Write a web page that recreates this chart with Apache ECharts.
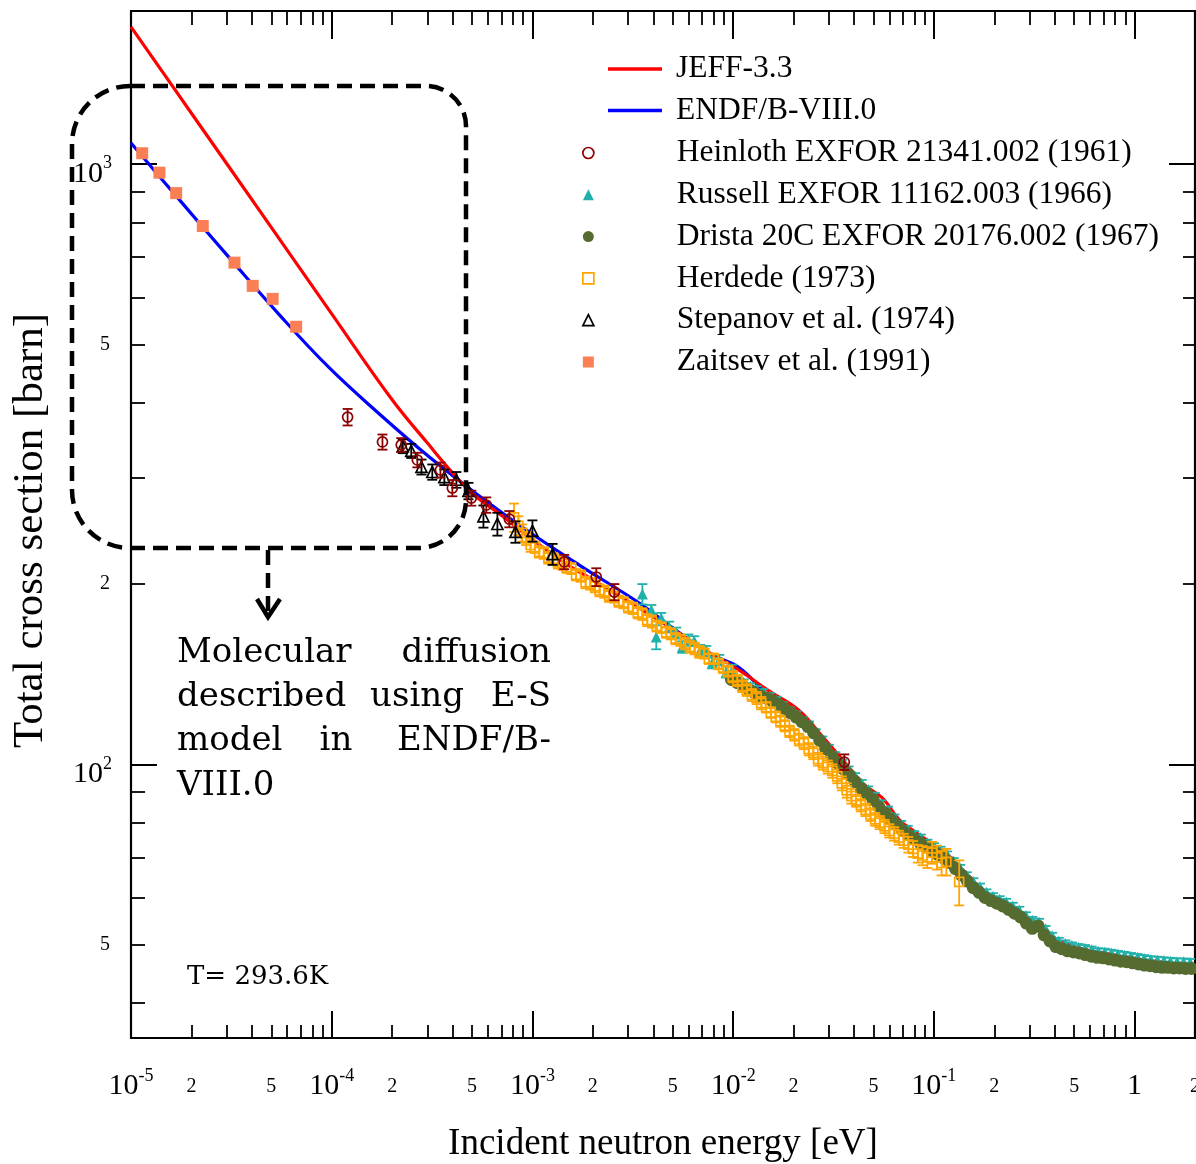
<!DOCTYPE html>
<html>
<head>
<meta charset="utf-8">
<title>Total cross section of H2O</title>
<script src="https://cdn.jsdelivr.net/npm/echarts@6/dist/echarts.min.js"></script>
<style>
  html, body { margin: 0; padding: 0; background: #fff; }
  #chart { width: 1196px; height: 1164px; }
</style>
</head>
<body>
<div id="chart"></div>
<script>
// ---------------- axis ranges and tick values ----------------
const X_MIN = 1e-5, X_MAX = 2;
const Y_MIN = 35, Y_MAX = 1800;
const xDecades = [1e-5, 1e-4, 1e-3, 1e-2, 1e-1, 1];
const minorMultipliers = [2, 3, 4, 5, 6, 7, 8, 9];
const xMinorLabelValues = [2e-5, 5e-5, 2e-4, 5e-4, 2e-3, 5e-3, 2e-2, 5e-2, 2e-1, 5e-1, 2];
const yDecades = [100, 1000];
const yMinorTickValues = [40, 50, 60, 70, 80, 90, 200, 300, 400, 500, 600, 700, 800, 900];
const yMinorLabelValues = [50, 200, 500];

// ---------------- evaluated data (energy in eV, cross section in barn) ----------------
const jeffE = [1e-5, 2e-5, 5e-5, 1e-4, 2e-4, 3e-4, 4e-4, 5e-4, 7e-4, 1e-3, 1.5e-3, 2e-3, 3e-3, 5e-3, 7e-3,
  0.0107, 0.015, 0.0213, 0.028, 0.0349, 0.045, 0.0552, 0.068, 0.0815, 0.1, 0.1192, 0.145, 0.18, 0.229,
  0.27, 0.308, 0.36, 0.42, 0.529, 0.7, 0.971, 1.4, 2.0];
const jeffS = [1694, 1216, 785, 563, 405, 343, 306, 283, 260, 237, 215, 203, 187, 168, 156,
  143.6, 132.7, 123, 111, 102, 92.5, 88, 80.5, 77, 73.4, 70.4, 65.8, 61.3, 59,
  56.8, 54.6, 52.7, 50.9, 49.4, 48.5, 47.5, 46.8, 46.1];

const endfE = [1e-5, 1.744e-5, 3.094e-5, 5.488e-5, 9.74e-5, 1.728e-4, 3.065e-4, 5.437e-4, 9.65e-4, 1.712e-3,
  3.407e-3, 5e-3, 7.6e-3, 0.0107, 0.015, 0.0213, 0.028, 0.0349, 0.045, 0.0552, 0.068, 0.0815,
  0.1, 0.1192, 0.145, 0.18, 0.229, 0.27, 0.308, 0.36, 0.42, 0.529, 0.7, 0.971, 1.4, 2.0];
const endfS = [1085, 872, 698, 561, 457.6, 383.6, 325.2, 280, 243.9, 214.8,
  185.7, 168.8, 153, 145, 130, 119, 108.5, 100, 91.8, 85.5, 79.8, 75.1,
  71.6, 68.8, 64, 60.8, 57.8, 55.8, 54.2, 52.3, 50.5, 49.0, 48.1, 47.1, 46.4, 45.7];

// ---------------- measurements ----------------
// Heinloth EXFOR 21341.002 (1961): energy, sigma, uncertainty
const heinlothE = [1.2e-4, 1.79e-4, 2.22e-4, 2.67e-4, 3.48e-4, 3.99e-4, 4.96e-4, 5.89e-4, 7.67e-4,
  1.44e-3, 2.08e-3, 2.56e-3, 0.0358];
const heinlothS = [379, 344.5, 340.6, 321.5, 309.4, 288.7, 277.8, 270.5, 256.3, 217.4, 205.2, 193.7, 100.9];
const heinlothErr = [12, 10, 9, 9, 9, 9, 8, 8, 8, 6, 7, 6, 3];

// Russell EXFOR 11162.003 (1966)
const russellE = [3.53e-3, 3.91e-3, 4.14e-3, 4.38e-3, 4.80e-3, 5.21e-3, 5.58e-3, 5.98e-3, 6.40e-3, 6.86e-3,
  7.35e-3, 7.87e-3, 8.53e-3, 9.24e-3, 9.90e-3,
  0.0105, 0.0113, 0.0122, 0.0131, 0.0141, 0.0152, 0.0164, 0.0177, 0.0191, 0.0206, 0.0222, 0.0239, 0.0258,
  0.0278, 0.0300, 0.0323, 0.0349, 0.0376, 0.0405, 0.0437, 0.0471, 0.0508, 0.0548, 0.0591, 0.0637, 0.0687,
  0.0741, 0.0799, 0.0861, 0.0929, 0.1001, 0.1080, 0.1164, 0.1255, 0.1353, 0.1459, 0.1573, 0.1697, 0.1829,
  0.1972, 0.2127, 0.2293, 0.2473, 0.2666, 0.2875, 0.3100, 0.3343, 0.3604, 0.3886, 0.4190, 0.4518, 0.4872,
  0.5253, 0.5664, 0.6108, 0.6586, 0.7101, 0.7657, 0.8257, 0.8903, 0.9600, 1.0351, 1.1161, 1.2035, 1.2977,
  1.3993, 1.5088, 1.6269, 1.7543, 1.8916];
const russellS = [192.2, 180.8, 163.0, 175.3, 169.4, 165.5, 156.9, 161.1, 160.5, 155.1,
  154.5, 147.5, 149.2, 142.5, 143.6,
  139, 137, 135, 133.5, 132, 130, 128, 125.5, 123, 121, 118.5, 116.5, 113,
  110, 106.5, 103.5, 100.5, 98, 95.5, 93, 90.8, 88.5, 86, 84, 81.5, 79.5,
  78, 76.5, 75.5, 74, 73, 72, 70.8, 69, 67.2, 65.3, 63.8, 62.5, 61.2,
  60.3, 59.6, 59.0, 58.1, 57.2, 56.0, 55.0, 54.6, 53.2, 51.8, 50.8, 50.3, 49.9,
  49.6, 49.4, 49.1, 48.8, 48.7, 48.5, 48.3, 48.1, 47.9, 47.7, 47.5, 47.3, 47.2,
  47.1, 47.0, 46.9, 46.9, 46.8];
const russellErr = [7.5, 3.5, 7.5, 3.5, 3.5, 3.5, 3.5, 3.5, 3, 3,
  3, 3, 3, 3, 3,
  1.5, 1.5, 1.5, 1.5, 1.5, 1.5, 1.5, 1.5, 1.5, 1.5, 1.4, 1.4, 1.4,
  1.3, 1.3, 1.3, 1.2, 1.2, 1.2, 1.2, 1.1, 1.1, 1.1, 1.0, 1.0, 1.0,
  1.0, 0.9, 0.9, 0.9, 0.9, 0.9, 0.8, 0.8, 0.8, 0.8, 0.8, 0.8, 0.7,
  0.7, 0.7, 0.7, 0.7, 0.7, 0.7, 0.7, 0.7, 0.6, 0.6, 0.6, 0.6, 0.6,
  0.6, 0.6, 0.6, 0.6, 0.6, 0.6, 0.6, 0.6, 0.6, 0.6, 0.6, 0.6, 0.6,
  0.6, 0.6, 0.6, 0.6, 0.6];

// Drista 20C EXFOR 20176.002 (1967)
const dristaE = [0.0098, 0.0105, 0.0112, 0.0120, 0.0128, 0.0137, 0.0147, 0.0157, 0.0168, 0.0180, 0.0192,
  0.0206, 0.0220, 0.0236, 0.0252, 0.0270, 0.0289, 0.0309, 0.0331, 0.0354, 0.0379, 0.0405, 0.0434, 0.0464,
  0.0497, 0.0531, 0.0569, 0.0608, 0.0651, 0.0697, 0.0746, 0.0798, 0.0854, 0.0914, 0.0978, 0.1046, 0.1120,
  0.1198, 0.1282, 0.1372, 0.1468, 0.1571, 0.1681, 0.1799, 0.1925, 0.2060, 0.2204, 0.2359, 0.2524, 0.2700,
  0.2890, 0.3092, 0.3309, 0.3540, 0.3788, 0.4054, 0.4338, 0.4641, 0.4966, 0.5314, 0.5686, 0.6084, 0.6510,
  0.6966, 0.7454, 0.7976, 0.8534, 0.9132, 0.9771, 1.0455, 1.1187, 1.1970, 1.2808, 1.3705, 1.4664, 1.5691,
  1.6789, 1.7965, 1.9222];
const dristaS = [138.5, 136.8, 135.0, 133.2, 131.6, 130.0, 128.9, 127.6, 125.9, 124.0, 122.0,
  119.9, 117.8, 115.6, 112.8, 109.6, 106.2, 103.2, 100.6, 98.3, 96.0, 93.6, 91.2, 89.4,
  87.4, 85.0, 83.0, 81.0, 79.4, 77.6, 76.3, 75.1, 74.0, 72.9, 71.7, 70.8, 69.8,
  68.6, 67.0, 65.4, 63.9, 62.3, 61.2, 60.0, 59.3, 58.7, 58.1, 57.3, 56.5, 55.7,
  54.4, 53.3, 53.8, 52.0, 50.8, 49.7, 49.3, 48.9, 48.7, 48.5, 48.2, 47.9, 47.7,
  47.6, 47.4, 47.2, 47.0, 46.9, 46.7, 46.5, 46.3, 46.2, 46.0, 45.9, 45.9, 45.8,
  45.8, 45.7, 45.7];

// Herdede (1973)
const herdedeE = [8.1e-4, 8.5e-4, 8.9e-4, 9.3e-4, 9.8e-4, 1.03e-3, 1.08e-3, 1.14e-3, 1.20e-3, 1.27e-3,
  1.34e-3, 1.41e-3, 1.48e-3, 1.56e-3, 1.65e-3, 1.74e-3, 1.84e-3, 1.94e-3, 2.05e-3, 2.16e-3, 2.28e-3,
  2.41e-3, 2.55e-3, 2.69e-3, 2.84e-3, 3.00e-3, 3.17e-3, 3.35e-3, 3.53e-3, 3.73e-3, 3.94e-3, 4.16e-3,
  4.39e-3, 4.64e-3, 4.90e-3, 5.17e-3, 5.46e-3, 5.77e-3, 6.09e-3, 6.43e-3, 6.79e-3, 7.17e-3, 7.57e-3,
  8.00e-3, 8.45e-3, 8.92e-3, 9.42e-3, 9.95e-3, 0.0105, 0.0111, 0.0117, 0.0124, 0.0131, 0.0138, 0.0146,
  0.0154, 0.0163, 0.0172, 0.0181, 0.0191, 0.0202, 0.0213, 0.0225, 0.0238, 0.0251, 0.0265, 0.0280,
  0.0296, 0.0312, 0.0330, 0.0348, 0.0368, 0.0388, 0.0410, 0.0433, 0.0457, 0.0483, 0.0510, 0.0538,
  0.0568, 0.0600, 0.0634, 0.0669, 0.0707, 0.0746, 0.0788, 0.0832, 0.0879, 0.0928, 0.0980, 0.1035,
  0.1093, 0.1154, 0.1337];
const herdedeS = [258, 250, 243, 238, 232, 230, 226, 225, 221, 220,
  217, 216, 213, 212, 207, 206, 201, 200, 198, 195, 194,
  191, 190, 187, 186, 183, 182, 179, 178, 174, 173, 170,
  169, 166, 165, 162, 161, 159, 157, 156, 154, 153, 150,
  150, 147, 145, 143, 140, 138, 135, 133, 130.5, 129, 126.5, 124.5,
  122, 120, 118, 116, 113.5, 112, 110, 108.5, 106, 104.5, 102, 100.5,
  99, 97.5, 95.5, 93, 90.5, 88.5, 87, 85.5, 84, 82.5, 81, 80,
  78.8, 77.5, 76.6, 75.5, 74.6, 73.5, 72.3, 71.0, 70.5, 70.0, 71.3, 70.0,
  68.5, 68.8, 63.7];
const herdedeErr = [14, 9, 8, 6, 6, 5, 5, 5, 5, 5,
  5, 5, 4.5, 4.5, 4.5, 4.5, 4.5, 4.5, 4.5, 4.5, 4.5,
  4.5, 4, 4, 4, 4, 4, 4, 4, 4, 4, 3.5,
  3.5, 3.5, 3.5, 3.5, 3.5, 3.5, 3.5, 3.5, 3.5, 3, 3,
  3, 3, 3, 3, 3, 3, 3, 3, 3, 3, 3, 2.5,
  2.5, 2.5, 2.5, 2.5, 2.5, 2.5, 2.5, 2.5, 2.5, 2.5, 2.5, 2.5,
  2.5, 2.5, 2.5, 2.5, 2.5, 2.5, 2, 2, 2, 2, 2, 2,
  2, 2, 2, 2, 2, 2.2, 2.2, 2.4, 2.6, 2.8, 3, 3.2,
  3.2, 3.5, 5.5];

// Stepanov et al. (1974)
const stepanovE = [2.26e-4, 2.49e-4, 2.80e-4, 3.17e-4, 3.64e-4, 4.18e-4, 4.80e-4, 5.70e-4, 6.69e-4,
  8.23e-4, 1.00e-3, 1.26e-3];
const stepanovS = [339, 333, 313, 307, 301, 298, 285.5, 259, 251.5, 244, 245, 224];
const stepanovErr = [9, 9, 9, 9, 9, 9, 9, 11, 11, 10, 10, 9];

// Zaitsev et al. (1991)
const zaitsevE = [1.137e-5, 1.386e-5, 1.679e-5, 2.278e-5, 3.277e-5, 4.04e-5, 5.08e-5, 6.65e-5];
const zaitsevS = [1043, 968, 895, 789, 685.5, 627, 596.5, 536];

// ---------------- styling ----------------
const SERIF = 'Liberation Serif';
const NOTE_FONT = '34px "DejaVu Serif"';
const COLORS = {
  jeff: '#ff0000', endf: '#0000ff', heinloth: '#8b0000', russell: '#20b2aa',
  drista: '#556b2f', herdede: '#ffa500', stepanov: '#000000', zaitsev: '#fa7f55'
};

const zip2 = (a, b) => a.map((v, i) => [v, b[i]]);
const zip3 = (a, b, c) => a.map((v, i) => [v, b[i], c[i]]);

const xMinorTickValues = [];
xDecades.forEach(d => minorMultipliers.forEach(m => {
  const v = m * d;
  if (v <= X_MAX) xMinorTickValues.push(v);
}));

function majorLabel(v) {
  const e = Math.round(Math.log10(v));
  return e === 0 ? '{b|1}' : '{b|10}{s|' + e + '}';
}
function minorLabel(v) {
  const e = Math.floor(Math.log10(v) + 1e-9);
  return String(Math.round(v / Math.pow(10, e)));
}
const richLabel = {
  b: { fontFamily: SERIF, fontSize: 30, lineHeight: 34, color: '#000', verticalAlign: 'bottom' },
  s: { fontFamily: SERIF, fontSize: 18, lineHeight: 16, color: '#000', verticalAlign: 'top' }
};

function logAxis(extra, min, max) {
  return Object.assign({
    type: 'log', logBase: 10, min: min, max: max, gridIndex: 0,
    splitLine: { show: false }, minorTick: { show: false }, minorSplitLine: { show: false },
    axisLine: { show: false, onZero: false },
    axisPointer: { show: false }
  }, extra);
}
const frameLine = { show: true, onZero: false, lineStyle: { color: '#000', width: 2.2 } };

const xAxes = [
  logAxis({
    position: 'bottom', axisLine: frameLine,
    axisTick: { show: true, inside: true, length: 27, customValues: xDecades, lineStyle: { color: '#000', width: 2 } },
    axisLabel: { show: true, customValues: xDecades, margin: 29, formatter: majorLabel, rich: richLabel },
    name: 'Incident neutron energy [eV]', nameLocation: 'middle', nameGap: 88,
    nameTextStyle: { fontFamily: SERIF, fontSize: 37, color: '#000' }
  }, X_MIN, X_MAX),
  logAxis({
    position: 'bottom',
    axisTick: { show: true, inside: true, length: 13, customValues: xMinorTickValues, lineStyle: { color: '#000', width: 1.8 } },
    axisLabel: { show: true, customValues: xMinorLabelValues, margin: 39, formatter: minorLabel,
      fontFamily: SERIF, fontSize: 20, color: '#000' }
  }, X_MIN, X_MAX),
  logAxis({
    position: 'top', axisLine: frameLine,
    axisTick: { show: true, inside: true, length: 28, customValues: xDecades, lineStyle: { color: '#000', width: 2 } },
    axisLabel: { show: false }
  }, X_MIN, X_MAX),
  logAxis({
    position: 'top',
    axisTick: { show: true, inside: true, length: 14, customValues: xMinorTickValues, lineStyle: { color: '#000', width: 1.8 } },
    axisLabel: { show: false }
  }, X_MIN, X_MAX)
];

const yAxes = [
  logAxis({
    position: 'left', axisLine: frameLine,
    axisTick: { show: true, inside: true, length: 26, customValues: yDecades, lineStyle: { color: '#000', width: 2 } },
    axisLabel: { show: true, customValues: yDecades, margin: 19, formatter: majorLabel, rich: richLabel,
      padding: [15, 0, 0, 0] },
    name: 'Total cross section [barn]', nameLocation: 'middle', nameGap: 79, nameRotate: 90,
    nameTextStyle: { fontFamily: SERIF, fontSize: 43, color: '#000', padding: [0, 12, 0, 0] }
  }, Y_MIN, Y_MAX),
  logAxis({
    position: 'left',
    axisTick: { show: true, inside: true, length: 14, customValues: yMinorTickValues, lineStyle: { color: '#000', width: 1.8 } },
    axisLabel: { show: true, customValues: yMinorLabelValues, margin: 21, formatter: minorLabel,
      fontFamily: SERIF, fontSize: 20, color: '#000', padding: [6, 0, 0, 0] }
  }, Y_MIN, Y_MAX),
  logAxis({
    position: 'right', axisLine: frameLine,
    axisTick: { show: true, inside: true, length: 26, customValues: yDecades, lineStyle: { color: '#000', width: 2 } },
    axisLabel: { show: false }
  }, Y_MIN, Y_MAX),
  logAxis({
    position: 'right',
    axisTick: { show: true, inside: true, length: 12, customValues: yMinorTickValues, lineStyle: { color: '#000', width: 1.8 } },
    axisLabel: { show: false }
  }, Y_MIN, Y_MAX)
];

// vertical error bar with short caps, drawn through the axes' own scales
function errorBars(name, data, color, capHalf, width, z) {
  return {
    type: 'custom', name: name, xAxisIndex: 0, yAxisIndex: 0, z: z, clip: true,
    data: data, encode: { x: 0, y: 1 },
    renderItem: function (params, api) {
      const e = api.value(0), s = api.value(1), d = api.value(2);
      const hi = api.coord([e, s + d]);
      const lo = api.coord([e, s - d]);
      const st = { stroke: color, lineWidth: width, fill: 'none' };
      return {
        type: 'group',
        children: [
          { type: 'line', shape: { x1: hi[0], y1: hi[1], x2: lo[0], y2: lo[1] }, style: st },
          { type: 'line', shape: { x1: hi[0] - capHalf, y1: hi[1], x2: hi[0] + capHalf, y2: hi[1] }, style: st },
          { type: 'line', shape: { x1: lo[0] - capHalf, y1: lo[1], x2: lo[0] + capHalf, y2: lo[1] }, style: st }
        ]
      };
    }
  };
}
function points(name, data, symbol, size, itemStyle, z) {
  return {
    type: 'scatter', name: name, xAxisIndex: 0, yAxisIndex: 0, z: z,
    symbol: symbol, symbolSize: size, data: data,
    itemStyle: Object.assign({ opacity: 1 }, itemStyle),
    emphasis: { disabled: true }
  };
}
function curve(name, xs, ys, color, z) {
  return {
    type: 'line', name: name, xAxisIndex: 0, yAxisIndex: 0, z: z,
    data: zip2(xs, ys), symbol: 'none', smooth: 0.4,
    lineStyle: { color: color, width: 3.2 }, itemStyle: { color: color },
    emphasis: { disabled: true }
  };
}

const N_HEIN = 'Heinloth EXFOR 21341.002 (1961)';
const N_RUSS = 'Russell EXFOR 11162.003 (1966)';
const N_DRIS = 'Drista 20C EXFOR 20176.002 (1967)';
const N_HERD = 'Herdede (1973)';
const N_STEP = 'Stepanov et al. (1974)';
const N_ZAIT = 'Zaitsev et al. (1991)';

const hollow = c => ({ color: 'rgba(255,255,255,0)', borderColor: c, borderWidth: 1.7 });

const series = [
  curve('ENDF/B-VIII.0', endfE, endfS, COLORS.endf, 2),
  curve('JEFF-3.3', jeffE, jeffS, COLORS.jeff, 3),
  errorBars(N_RUSS, zip3(russellE, russellS, russellErr), COLORS.russell, 5, 1.8, 4),
  points(N_RUSS, zip2(russellE, russellS), 'triangle', 11, { color: COLORS.russell }, 4),
  points(N_DRIS, zip2(dristaE, dristaS), 'circle', 13, { color: COLORS.drista }, 5),
  errorBars(N_HERD, zip3(herdedeE, herdedeS, herdedeErr), COLORS.herdede, 5, 1.8, 6),
  points(N_HERD, zip2(herdedeE, herdedeS), 'rect', 9, hollow(COLORS.herdede), 6),
  errorBars(N_STEP, zip3(stepanovE, stepanovS, stepanovErr), COLORS.stepanov, 5, 1.8, 7),
  points(N_STEP, zip2(stepanovE, stepanovS), 'triangle', 11, hollow(COLORS.stepanov), 7),
  errorBars(N_HEIN, zip3(heinlothE, heinlothS, heinlothErr), COLORS.heinloth, 5, 1.8, 8),
  points(N_HEIN, zip2(heinlothE, heinlothS), 'circle', 10, hollow(COLORS.heinloth), 8),
  points(N_ZAIT, zip2(zaitsevE, zaitsevS), 'rect', 12, { color: COLORS.zaitsev }, 9)
];

const legendText = { fontFamily: SERIF, fontSize: 31.5, color: '#000', lineHeight: 30 };
const legends = [
  {
    orient: 'vertical', left: 608, top: 53, padding: 0, itemGap: 9.6,
    itemWidth: 54, itemHeight: 3.5, selectedMode: false,
    textStyle: Object.assign({ padding: [0, 0, 0, 9] }, legendText),
    data: [
      { name: 'JEFF-3.3', icon: 'rect', itemStyle: { color: COLORS.jeff } },
      { name: 'ENDF/B-VIII.0', icon: 'rect', itemStyle: { color: COLORS.endf } }
    ]
  },
  {
    orient: 'vertical', left: 582, top: 137, padding: 0, itemGap: 9.8,
    itemWidth: 11, itemHeight: 11, selectedMode: false,
    textStyle: Object.assign({ padding: [0, 0, 0, 78] }, legendText),
    data: [
      { name: N_HEIN, icon: 'circle', itemStyle: hollow(COLORS.heinloth) },
      { name: N_RUSS, icon: 'triangle', itemStyle: { color: COLORS.russell, opacity: 1 } },
      { name: N_DRIS, icon: 'circle', itemStyle: { color: COLORS.drista, opacity: 1 } },
      { name: N_HERD, icon: 'rect', itemStyle: hollow(COLORS.herdede) },
      { name: N_STEP, icon: 'triangle', itemStyle: hollow(COLORS.stepanov) },
      { name: N_ZAIT, icon: 'rect', itemStyle: { color: COLORS.zaitsev, opacity: 1 } }
    ]
  }
];

// dashed call-out box, arrow and the note underneath
const dash = [15, 8];
function note(text, x, y, align) {
  return { type: 'text', x: x, y: y, z: 200,
    style: { text: text, font: NOTE_FONT, fill: '#000', align: align, verticalAlign: 'middle' } };
}
const graphics = [
  { type: 'rect', z: 150, shape: { x: 72, y: 86, width: 394, height: 462, r: [58, 40, 48, 58] },
    style: { fill: 'none', stroke: '#000', lineWidth: 4.5, lineDash: dash } },
  { type: 'line', z: 150, shape: { x1: 268, y1: 550, x2: 268, y2: 612 },
    style: { stroke: '#000', lineWidth: 4.5, lineDash: dash } },
  { type: 'polyline', z: 150, shape: { points: [[257, 599], [268, 617], [280, 599]] },
    style: { stroke: '#000', lineWidth: 4.5, fill: 'none' } },
  note('Molecular', 177, 653, 'left'),
  note('diffusion', 551, 653, 'right'),
  note('described', 177, 697, 'left'),
  note('using', 417, 697, 'center'),
  note('E-S', 551, 697, 'right'),
  note('model', 177, 741, 'left'),
  note('in', 336, 741, 'center'),
  note('ENDF/B-', 551, 741, 'right'),
  note('VIII.0', 177, 786, 'left'),
  { type: 'text', x: 187, y: 977, z: 200,
    style: { text: 'T= 293.6K', font: '26px "DejaVu Serif"', fill: '#000', align: 'left', verticalAlign: 'middle' } }
];

const chart = echarts.init(document.getElementById('chart'), null, { renderer: 'canvas' });
chart.setOption({
  animation: false,
  backgroundColor: '#ffffff',
  textStyle: { fontFamily: SERIF, color: '#000' },
  grid: { left: 131, right: 1, top: 11, bottom: 126, containLabel: false, outerBoundsMode: 'none' },
  xAxis: xAxes,
  yAxis: yAxes,
  legend: legends,
  series: series,
  graphic: graphics
});
</script>
</body>
</html>
